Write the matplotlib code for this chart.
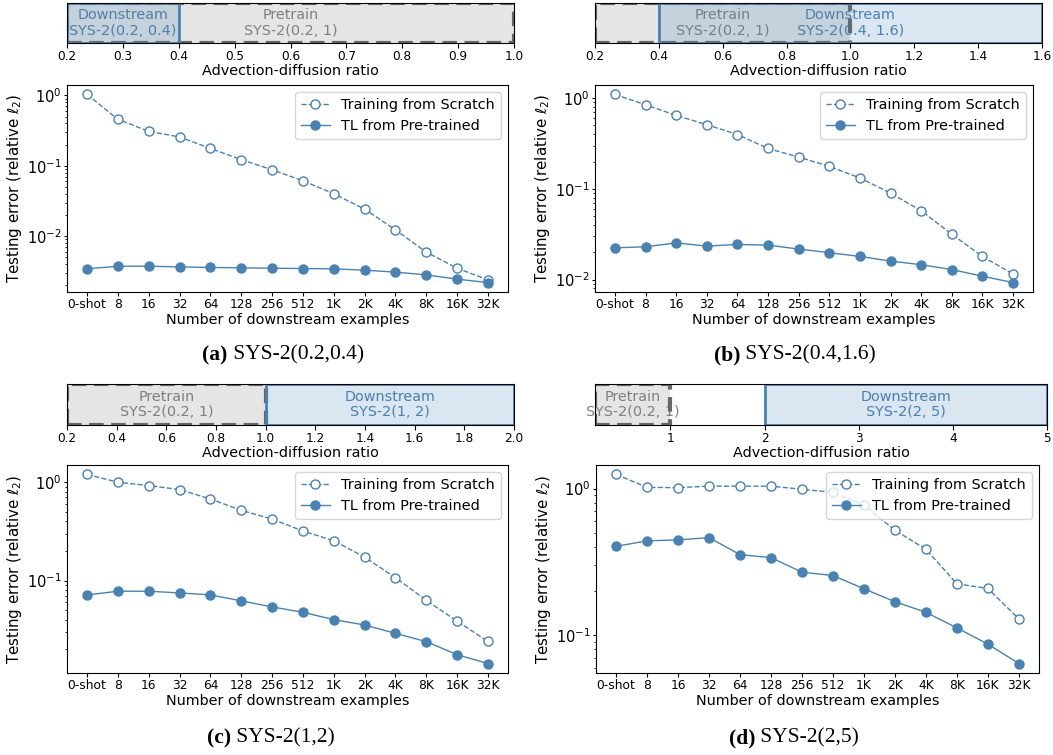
import matplotlib
matplotlib.use("Agg")
import matplotlib.pyplot as plt
from matplotlib.patches import Rectangle
import numpy as np

W, H = 1053, 755

xlabels = ["0-shot", "8", "16", "32", "64", "128", "256", "512", "1K", "2K", "4K", "8K", "16K", "32K"]

scratch_a = [1.03, 0.456, 0.308, 0.256, 0.176, 0.122, 0.0877, 0.0612, 0.040, 0.0242, 0.0123, 0.00593, 0.00351, 0.00239]
tl_a = [0.00343, 0.00374, 0.00374, 0.00366, 0.00359, 0.00355, 0.0035, 0.00347, 0.00343, 0.00329, 0.00308, 0.00282, 0.00245, 0.00219]

scratch_b = [1.10, 0.845, 0.646, 0.51, 0.397, 0.279, 0.224, 0.177, 0.132, 0.0897, 0.0574, 0.0316, 0.018, 0.0115]
tl_b = [0.0224, 0.023, 0.0254, 0.0234, 0.0244, 0.024, 0.0217, 0.0198, 0.018, 0.016, 0.0146, 0.0129, 0.0109, 0.00927]

scratch_c = [1.2, 1.0, 0.925, 0.842, 0.676, 0.518, 0.422, 0.319, 0.254, 0.173, 0.107, 0.063, 0.0385, 0.024]
tl_c = [0.0714, 0.0778, 0.0778, 0.0748, 0.0714, 0.0621, 0.0539, 0.0475, 0.040, 0.0353, 0.029, 0.0239, 0.0176, 0.0143]

scratch_d = [1.25, 1.02, 1.016, 1.04, 1.04, 1.04, 0.99, 0.944, 0.769, 0.52, 0.385, 0.224, 0.208, 0.129]
tl_d = [0.404, 0.44, 0.447, 0.463, 0.354, 0.338, 0.269, 0.255, 0.207, 0.169, 0.143, 0.112, 0.0867, 0.0639]

# top bar ranges
bar_xlim = {"a": (0.2, 1.0), "b": (0.2, 1.6), "c": (0.2, 2.0), "d": (0.2, 5.0)}
pretrain_range = (0.2, 1.0)
down_range = {"a": (0.2, 0.4), "b": (0.4, 1.6), "c": (1.0, 2.0), "d": (2.0, 5.0)}
down_label = {"a": "SYS-2(0.2, 0.4)", "b": "SYS-2(0.4, 1.6)", "c": "SYS-2(1, 2)", "d": "SYS-2(2, 5)"}
bar_ticks = {"a": [0.2, 0.3, 0.4, 0.5, 0.6, 0.7, 0.8, 0.9, 1.0],
             "b": [0.2, 0.4, 0.6, 0.8, 1.0, 1.2, 1.4, 1.6],
             "c": [0.2, 0.4, 0.6, 0.8, 1.0, 1.2, 1.4, 1.6, 1.8, 2.0],
             "d": [1, 2, 3, 4, 5]}
captions = {"a": ("(a)", "SYS-2(0.2,0.4)"), "b": ("(b)", "SYS-2(0.4,1.6)"),
            "c": ("(c)", "SYS-2(1,2)"), "d": ("(d)", "SYS-2(2,5)")}
data = {"a": (scratch_a, tl_a), "b": (scratch_b, tl_b), "c": (scratch_c, tl_c), "d": (scratch_d, tl_d)}

# pixel layouts: (left, right, top, bottom)
bar_box = {"a": (67, 514, 3, 43), "b": (595, 1042, 3, 43), "c": (67, 514, 384, 425), "d": (595, 1047, 384, 425)}
main_box = {"a": (67, 508, 85, 292), "b": (595, 1033, 85, 292), "c": (67, 508, 465, 673), "d": (596, 1039, 465, 673)}
cap_pos = {"a": (283, 355), "b": (795, 355), "c": (271, 738), "d": (794, 738)}

fig = plt.figure(figsize=(W / 100, H / 100), dpi=100)


def add_ax(box):
    l, r, t, b = box
    return fig.add_axes([l / W, 1 - b / H, (r - l) / W, (b - t) / H])


blue = "steelblue"
cap_texts = []
for key in ["a", "b", "c", "d"]:
    # top range bar
    bx = add_ax(bar_box[key])
    lo, hi = bar_xlim[key]
    bx.set_xlim(lo, hi)
    bx.set_ylim(0, 1)
    bx.set_yticks([])
    bx.set_xticks(bar_ticks[key])
    if key == "d":
        bx.set_xticklabels([str(t) for t in bar_ticks[key]])
    else:
        bx.set_xticklabels([f"{t:.1f}" for t in bar_ticks[key]])
    bx.tick_params(axis="x", labelsize=8.7, length=3.5, pad=1.5)
    bx.set_xlabel("Advection-diffusion ratio", fontsize=10.4, labelpad=1)
    p0, p1 = pretrain_range
    d0, d1 = down_range[key]
    bx.text((p0 + p1) / 2, 0.5, "Pretrain\nSYS-2(0.2, 1)", color="gray", ha="center", va="center",
            fontsize=10.4, zorder=0.5, linespacing=1.15)
    bx.text((d0 + d1) / 2, 0.5, "Downstream\n" + down_label[key], color=blue, ha="center", va="center",
            fontsize=10.4, zorder=0.5, linespacing=1.15)
    bx.add_patch(Rectangle((p0, 0), p1 - p0, 1, facecolor=(0.5, 0.5, 0.5, 0.2), edgecolor="#666666",
                           linestyle=(0, (3.5, 1.8)), linewidth=3, zorder=1))
    bx.add_patch(Rectangle((d0, 0), d1 - d0, 1, facecolor=(70 / 255, 130 / 255, 180 / 255, 0.2),
                           edgecolor=blue, linewidth=2, zorder=1.5))

    # main plot
    l, r, t_, b_ = main_box[key]
    ax = add_ax(main_box[key])
    s, t = data[key]
    x = np.arange(len(xlabels))
    ax.plot(x, s, "--o", color=blue, mfc="white", mec=blue, ms=6.5, lw=1, label="Training from Scratch")
    ax.plot(x, t, "-o", color=blue, ms=6.5, lw=1, label="TL from Pre-trained")
    ax.set_yscale("log")
    ax.set_xticks(x)
    ax.set_xticklabels(xlabels)
    ax.tick_params(axis="x", labelsize=8.8, length=3, pad=1.5)
    ax.tick_params(axis="y", which="major", labelsize=10.5, length=2.5, pad=1.5)
    ax.tick_params(axis="y", which="minor", length=1.5)
    ax.set_xlabel("Number of downstream examples", fontsize=10.4, labelpad=1)
    ax.set_ylabel(r"Testing error (relative $\ell_2$)", fontsize=10.8)
    ax.yaxis.set_label_coords(-43.0 / (r - l), 0.5)
    ax.legend(loc="upper right", fontsize=10.4)

    cx, cy = cap_pos[key]
    lab, rest = captions[key]
    t1 = fig.text(cx / W, 1 - cy / H, lab, family="Liberation Serif", fontweight="bold", fontsize=15.5,
                  ha="left", va="center")
    t2 = fig.text(cx / W, 1 - cy / H, " " + rest, family="Liberation Serif", fontsize=15.5,
                  ha="left", va="center")
    cap_texts.append((cx, cy, t1, t2))

renderer = fig.canvas.get_renderer()
for cx, cy, t1, t2 in cap_texts:
    w1 = t1.get_window_extent(renderer).width
    w2 = t2.get_window_extent(renderer).width
    start = cx - (w1 + w2) / 2
    t1.set_x(start / W)
    t2.set_x((start + w1) / W)

plt.savefig("out.png", dpi=100)
